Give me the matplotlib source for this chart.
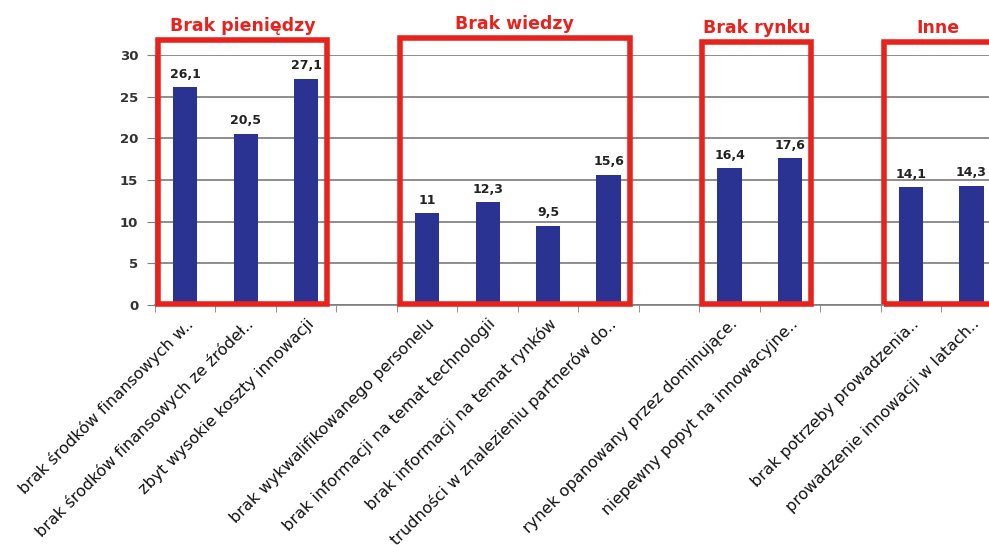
import matplotlib.pyplot as plt
from matplotlib.patches import Rectangle
from matplotlib.ticker import FixedLocator

plt.rcParams['font.family'] = ['DejaVu Sans']

groups = ['Brak pieniędzy', 'Brak wiedzy', 'Brak rynku', 'Inne']
labels = [
    ['brak środków finansowych w..', 'brak środków finansowych ze źródeł..',
     'zbyt wysokie koszty innowacji'],
    ['brak wykwalifikowanego personelu', 'brak informacji na temat technologii',
     'brak informacji na temat rynków', 'trudności w znalezieniu partnerów do..'],
    ['rynek opanowany przez dominujące.', 'niepewny popyt na innowacyjne..'],
    ['brak potrzeby prowadzenia..', 'prowadzenie innowacji w latach..'],
]
values = [
    [26.1, 20.5, 27.1],
    [11, 12.3, 9.5, 15.6],
    [16.4, 17.6],
    [14.1, 14.3],
]

bar_color = '#2a3292'
box_color = '#e8231e'

fig = plt.figure(figsize=(9.89, 5.45), dpi=100)
ax = fig.add_axes([0.1567, 0.4404, 0.8433, 0.4587])

# one empty slot between groups
pos = 0
xs, ys, names, spans = [], [], [], []
for g, vals, labs in zip(groups, values, labels):
    start = pos
    for v, l in zip(vals, labs):
        xs.append(pos)
        ys.append(v)
        names.append(l)
        pos += 1
    spans.append((start, pos - 1))
    pos += 1

bars = ax.bar(xs, ys, width=0.4, color=bar_color, zorder=3)
for x, v in zip(xs, ys):
    txt = f'{v:g}'.replace('.', ',')
    ax.text(x, v + 0.8, txt, ha='center', va='bottom', fontsize=9,
            fontweight='bold', color='#222222', zorder=5)

ax.set_xlim(-0.5, 13.29)
ax.set_ylim(0, 30)
ax.set_yticks(range(0, 31, 5))
ax.yaxis.grid(True, color='#7a7a7a', linewidth=1.2, zorder=0)
ax.set_axisbelow(True)

ax.set_xticks(xs)
ax.set_xticklabels(names, rotation=45, ha='right', rotation_mode='anchor',
                   fontsize=11.5, color='#111111')
ax.tick_params(axis='x', which='major', length=0, pad=8)
ax.xaxis.set_minor_locator(FixedLocator([i + 0.5 for i in range(-1, 14)]))
ax.tick_params(axis='x', which='minor', length=5, color='#7f7f7f', direction='out')
ax.tick_params(axis='y', length=6, color='#7f7f7f', pad=6, labelsize=9.5,
               labelcolor='#333333')
for t in ax.get_yticklabels():
    t.set_fontweight('bold')

for s in ['top', 'right']:
    ax.spines[s].set_visible(False)
ax.spines['left'].set_color('#7f7f7f')
ax.spines['bottom'].set_color('#7f7f7f')
ax.spines['bottom'].set_linewidth(1.2)

# red frames around the groups
box_tops = [31.8, 32.0, 31.6, 31.6]
for (a, b), g, top in zip(spans, groups, box_tops):
    left = a - 0.45
    right = b + 0.35 if g != 'Inne' else b + 1.5
    ax.add_patch(Rectangle((left, 0.15), right - left, top - 0.15, fill=False,
                           edgecolor=box_color, linewidth=4, clip_on=False,
                           zorder=6))
    cx = (a - 0.45 + b + 0.35) / 2
    ax.text(cx, top + 0.6, g, ha='center', va='bottom', fontsize=12.5,
            fontweight='bold', color=box_color, clip_on=False)

fig.savefig('out.png', dpi=100)
